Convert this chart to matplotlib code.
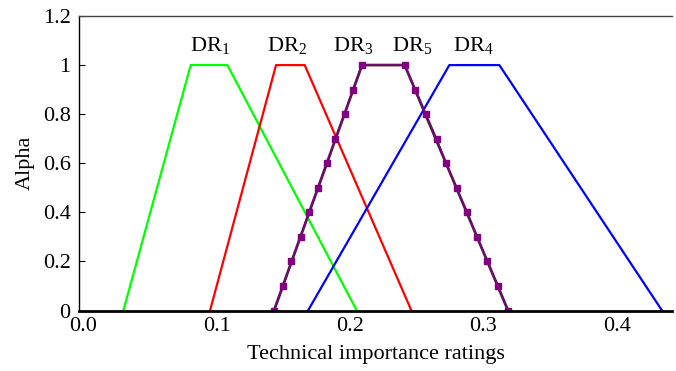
import matplotlib
matplotlib.use("Agg")
import matplotlib.pyplot as plt

plt.rcParams['font.family'] = ['Liberation Serif', 'DejaVu Serif']
plt.rcParams['mathtext.fontset'] = 'custom'
plt.rcParams['mathtext.rm'] = 'Liberation Serif'
plt.rcParams['mathtext.it'] = 'Liberation Serif:italic'

# trapezoid corners (x), alpha at each corner
alpha_corners = [0, 1, 1, 0]
dr1_x = [0.030, 0.0805, 0.108, 0.205]
dr2_x = [0.095, 0.1445, 0.166, 0.246]
dr3_x = [0.143, 0.209, 0.241, 0.3185]
dr4_x = [0.1685, 0.2745, 0.312, 0.434]

# DR5 alpha cuts (squares), left side rising then right side falling
dr5_alpha = [0, 0.1, 0.2, 0.3, 0.4, 0.5, 0.6, 0.7, 0.8, 0.9, 1.0,
             1.0, 0.9, 0.8, 0.7, 0.6, 0.5, 0.4, 0.3, 0.2, 0.1, 0]
dr5_x = [0.143, 0.150, 0.156, 0.163, 0.169, 0.176, 0.183, 0.189, 0.196, 0.202, 0.209,
         0.241, 0.249, 0.257, 0.265, 0.272, 0.280, 0.288, 0.295, 0.303, 0.311, 0.3185]

labels = ['DR$_1$', 'DR$_2$', 'DR$_3$', 'DR$_5$', 'DR$_4$']
label_x = [0.0953, 0.1525, 0.2022, 0.2463, 0.2925]
label_y = 1.058

xticks = [0.0, 0.1, 0.2, 0.3, 0.4]
yticks = [0, 0.2, 0.4, 0.6, 0.8, 1.0, 1.2]

fig = plt.figure(figsize=(6.76, 3.71), dpi=100)
ax = fig.add_axes([79/676, 1 - 310.5/371, (672 - 79)/676, (310.5 - 16)/371])

ax.plot(dr1_x, alpha_corners, color='#00ff00', lw=1.6)
ax.plot(dr2_x, alpha_corners, color='#ff0000', lw=1.6)
ax.plot(dr4_x, alpha_corners, color='#0000ff', lw=1.6)
ax.plot(dr3_x, alpha_corners, color='#4a2040', lw=2.0)
ax.plot(dr5_x, dr5_alpha, color='#800080', lw=1.0, marker='s', ms=4.5,
        mfc='#800080', mec='#800080')

for t, x in zip(labels, label_x):
    ax.text(x, label_y, t, ha='center', va='baseline', fontsize=16)

ax.set_xlim(-0.0033, 0.4415)
ax.set_ylim(0, 1.2)
ax.set_xticks(xticks)
ax.set_xticklabels(['%.1f' % v for v in xticks])
ax.set_yticks(yticks)
ax.set_yticklabels(['%g' % v for v in yticks])
ax.tick_params(axis='x', length=0, labelsize=16, pad=5)
ax.tick_params(axis='y', direction='in', length=4, width=0.8, labelsize=16, pad=6)

ax.spines['right'].set_visible(False)
ax.spines['bottom'].set_linewidth(2.0)
ax.spines['left'].set_linewidth(1.0)
ax.spines['top'].set_linewidth(1.0)
ax.spines['top'].set_color('#444444')

ax.set_xlabel('Technical importance ratings', fontsize=16, labelpad=6)
ax.set_ylabel('Alpha', fontsize=16, labelpad=6)

fig.savefig('out.png', dpi=100)
